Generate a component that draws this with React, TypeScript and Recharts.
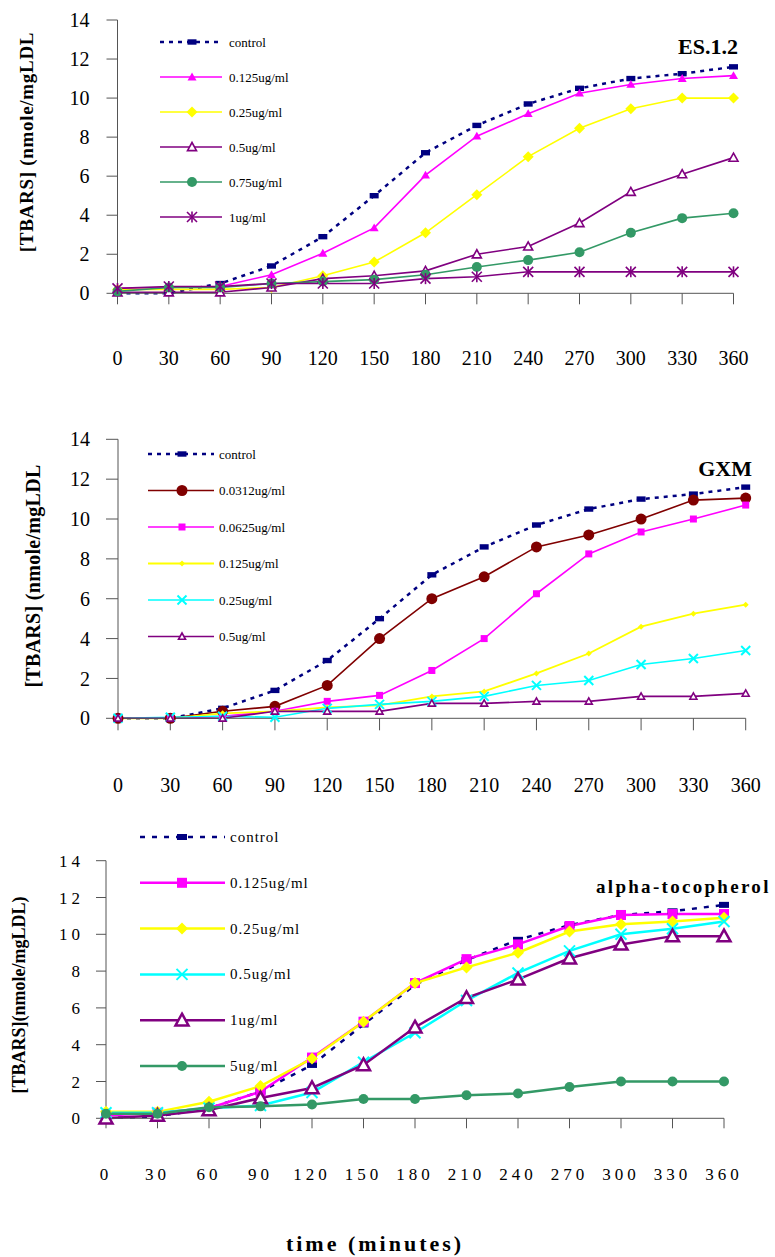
import { Legend, Line, LineChart, XAxis, YAxis } from "recharts";

const minutes = [0, 30, 60, 90, 120, 150, 180, 210, 240, 270, 300, 330, 360];
const yTicks = [0, 2, 4, 6, 8, 10, 12, 14];

const control = [0, 0, 0.5, 1.4, 2.9, 5.0, 7.2, 8.6, 9.7, 10.5, 11.0, 11.25, 11.6];

// ES.1.2
const es0125 = [0.25, 0.3, 0.35, 0.95, 2.05, 3.35, 6.05, 8.05, 9.2, 10.25, 10.7, 11.0, 11.15];
const es025 = [0.2, 0.2, 0.2, 0.3, 0.9, 1.6, 3.1, 5.05, 7.0, 8.45, 9.45, 10.0, 10.0];
const es05 = [0.05, 0.05, 0.05, 0.3, 0.75, 0.9, 1.15, 2.0, 2.4, 3.6, 5.2, 6.1, 6.95];
const es075 = [0.1, 0.3, 0.3, 0.5, 0.6, 0.7, 0.95, 1.35, 1.7, 2.1, 3.1, 3.85, 4.1];
const es1 = [0.25, 0.35, 0.35, 0.5, 0.5, 0.5, 0.75, 0.85, 1.1, 1.1, 1.1, 1.1, 1.1];

// GXM
const gx00312 = [0, 0, 0.35, 0.6, 1.65, 4.0, 6.0, 7.1, 8.6, 9.2, 10.0, 10.95, 11.05];
const gx00625 = [0, 0, 0.1, 0.35, 0.85, 1.15, 2.4, 4.0, 6.25, 8.25, 9.35, 10.0, 10.7];
const gx0125 = [0, 0, 0.25, 0.35, 0.55, 0.65, 1.1, 1.35, 2.25, 3.25, 4.6, 5.25, 5.7];
const gx025 = [0, 0.05, 0.1, 0.05, 0.5, 0.7, 0.85, 1.1, 1.65, 1.9, 2.7, 3.0, 3.4];
const gx05 = [0, 0, 0, 0.35, 0.35, 0.35, 0.75, 0.75, 0.85, 0.85, 1.1, 1.1, 1.25];

// alpha-tocopherol
const atControl = [0, 0.1, 0.55, 1.45, 2.9, 5.1, 7.25, 8.6, 9.7, 10.5, 11.05, 11.25, 11.6];
const at0125 = [0.15, 0.3, 0.55, 1.45, 3.3, 5.25, 7.35, 8.65, 9.45, 10.45, 11.05, 11.1, 11.1];
const at025 = [0.35, 0.35, 0.9, 1.75, 3.25, 5.25, 7.35, 8.2, 9.0, 10.15, 10.55, 10.7, 10.9];
const at05 = [0.3, 0.3, 0.55, 0.7, 1.4, 3.05, 4.65, 6.4, 7.9, 9.1, 10.0, 10.3, 10.7];
const at1 = [0, 0.15, 0.45, 1.1, 1.65, 2.9, 4.95, 6.55, 7.55, 8.7, 9.45, 9.9, 9.9];
const at5 = [0.25, 0.25, 0.6, 0.65, 0.75, 1.05, 1.05, 1.25, 1.35, 1.7, 2.0, 2.0, 2.0];

const NAVY = "#000080";
const MAGENTA = "#ff00ff";
const YELLOW = "#ffff00";
const PURPLE = "#800080";
const GREEN = "#339966";
const MAROON = "#800000";
const CYAN = "#00ffff";

const FONT = '"Liberation Serif", "Times New Roman", serif';

type Shape = "bar" | "square" | "triangle" | "openTriangle" | "diamond" | "circle" | "cross" | "star";

type Series = {
  key: string;
  name: string;
  values: number[];
  color: string;
  shape: Shape;
  size: number;
  width: number;
  dash?: string;
};

function Marker({ shape, x, y, color, size }: { shape: Shape; x: number; y: number; color: string; size: number }) {
  const h = size / 2;
  switch (shape) {
    case "bar":
      return <rect x={x - h} y={y - h * 0.6} width={size} height={size * 0.6} fill={color} />;
    case "square":
      return <rect x={x - h} y={y - h} width={size} height={size} fill={color} />;
    case "triangle":
      return <polygon points={`${x},${y - h} ${x + h},${y + h * 0.75} ${x - h},${y + h * 0.75}`} fill={color} />;
    case "openTriangle":
      return (
        <polygon
          points={`${x},${y - h} ${x + h},${y + h * 0.8} ${x - h},${y + h * 0.8}`}
          fill="#fff"
          stroke={color}
          strokeWidth={size > 10 ? 2.5 : 1.6}
        />
      );
    case "diamond":
      return <polygon points={`${x},${y - h} ${x + h},${y} ${x},${y + h} ${x - h},${y}`} fill={color} />;
    case "circle":
      return <circle cx={x} cy={y} r={h} fill={color} />;
    case "cross":
      return (
        <g stroke={color} strokeWidth={2}>
          <line x1={x - h} y1={y - h} x2={x + h} y2={y + h} />
          <line x1={x - h} y1={y + h} x2={x + h} y2={y - h} />
        </g>
      );
    case "star":
      return (
        <g stroke={color} strokeWidth={1.6}>
          <line x1={x - h} y1={y - h} x2={x + h} y2={y + h} />
          <line x1={x - h} y1={y + h} x2={x + h} y2={y - h} />
          <line x1={x} y1={y - h * 1.1} x2={x} y2={y + h * 1.1} />
        </g>
      );
  }
  return null;
}

type PanelProps = {
  top: number;
  height: number;
  plotLeft: number;
  plotRight: number;
  plotTop: number;
  plotBottom: number;
  series: Series[];
  title: string;
  titleX: number;
  titleY: number;
  titleAnchor: "start" | "end";
  titleSize: number;
  titleSpacing: number;
  yLabel: string;
  yLabelX: number;
  yLabelY: number;
  yLabelSize: number;
  yLabelSpacing: number;
  tickFont: number;
  tickSpacing: number;
  tickSize: number;
  xTickMargin: number;
  yTickMargin: number;
  legend: { rowTop: number; rowGap: number; x1: number; x2: number; mx: number; tx: number; font: number; spacing: number };
  extra?: React.ReactNode;
};

function Panel(p: PanelProps) {
  const data = minutes.map((t, i) => {
    const row: Record<string, number> = { time: t };
    p.series.forEach((s) => {
      row[s.key] = s.values[i];
    });
    return row;
  });
  const tickStyle = {
    fill: "#000",
    fontSize: p.tickFont,
    fontFamily: FONT,
    letterSpacing: p.tickSpacing,
    style: { fontFamily: FONT },
  };
  const lg = p.legend;

  return (
    <div style={{ position: "absolute", left: 0, top: p.top, fontFamily: FONT }}>
      <LineChart
        width={775}
        height={p.height}
        data={data}
        margin={{ top: p.plotTop, right: 775 - p.plotRight, left: 0, bottom: 0 }}
        style={{ fontFamily: FONT }}
      >
        <XAxis
          type="number"
          dataKey="time"
          domain={[0, 360]}
          ticks={minutes}
          interval={0}
          stroke="#555"
          tickSize={p.tickSize}
          tickMargin={p.xTickMargin}
          tick={tickStyle}
          height={p.height - p.plotBottom}
        />
        <YAxis
          domain={[0, 14]}
          ticks={yTicks}
          interval={0}
          stroke="#555"
          tickSize={p.tickSize}
          tickMargin={p.yTickMargin}
          tick={tickStyle}
          width={p.plotLeft}
        />
        {p.series.map((s) => (
          <Line
            key={s.key}
            type="linear"
            dataKey={s.key}
            name={s.name}
            stroke={s.color}
            strokeWidth={s.width}
            strokeDasharray={s.dash}
            isAnimationActive={false}
            activeDot={false}
            dot={(d: { cx?: number; cy?: number; index?: number }) => (
              <g key={`${s.key}-${d.index}`}>
                {d.cx !== undefined && d.cy !== undefined ? (
                  <Marker shape={s.shape} x={d.cx} y={d.cy} color={s.color} size={s.size} />
                ) : null}
              </g>
            )}
          />
        ))}
        <Legend
          layout="horizontal"
          verticalAlign="middle"
          align="center"
          wrapperStyle={{ left: 0, top: 0, width: 360, height: 270 }}
          content={() => (
            <svg width={360} height={270} style={{ display: "block" }}>
              {p.series.map((s, i) => {
                const y = lg.rowTop + i * lg.rowGap;
                return (
                  <g key={s.key}>
                    <line x1={lg.x1} y1={y} x2={lg.x2} y2={y} stroke={s.color} strokeWidth={s.width} strokeDasharray={s.dash} />
                    <Marker shape={s.shape} x={lg.mx} y={y} color={s.color} size={s.size} />
                    <text
                      x={lg.tx}
                      y={y}
                      dominantBaseline="central"
                      fontFamily={FONT}
                      fontSize={lg.font}
                      letterSpacing={lg.spacing}
                      fill="#000"
                    >
                      {s.name}
                    </text>
                  </g>
                );
              })}
            </svg>
          )}
        />
        <text
          x={p.titleX}
          y={p.titleY}
          textAnchor={p.titleAnchor}
          fontFamily={FONT}
          fontWeight="bold"
          fontSize={p.titleSize}
          letterSpacing={p.titleSpacing}
          fill="#000"
        >
          {p.title}
        </text>
        <text
          x={p.yLabelX}
          y={p.yLabelY}
          transform={`rotate(-90 ${p.yLabelX} ${p.yLabelY})`}
          textAnchor="middle"
          dominantBaseline="central"
          fontFamily={FONT}
          fontWeight="bold"
          fontSize={p.yLabelSize}
          letterSpacing={p.yLabelSpacing}
          fill="#000"
        >
          {p.yLabel}
        </text>
        {p.extra}
      </LineChart>
    </div>
  );
}

const esSeries: Series[] = [
  { key: "control", name: "control", values: control, color: NAVY, shape: "bar", size: 9, width: 2.5, dash: "4 5" },
  { key: "c0125", name: "0.125ug/ml", values: es0125, color: MAGENTA, shape: "triangle", size: 9, width: 1.6 },
  { key: "c025", name: "0.25ug/ml", values: es025, color: YELLOW, shape: "diamond", size: 11, width: 1.6 },
  { key: "c05", name: "0.5ug/ml", values: es05, color: PURPLE, shape: "openTriangle", size: 9, width: 1.6 },
  { key: "c075", name: "0.75ug/ml", values: es075, color: GREEN, shape: "circle", size: 10, width: 1.6 },
  { key: "c1", name: "1ug/ml", values: es1, color: PURPLE, shape: "star", size: 10, width: 1.6 },
];

const gxSeries: Series[] = [
  { key: "control", name: "control", values: control, color: NAVY, shape: "bar", size: 9, width: 2.5, dash: "4 5" },
  { key: "c00312", name: "0.0312ug/ml", values: gx00312, color: MAROON, shape: "circle", size: 11, width: 1.6 },
  { key: "c00625", name: "0.0625ug/ml", values: gx00625, color: MAGENTA, shape: "square", size: 7, width: 1.6 },
  { key: "c0125", name: "0.125ug/ml", values: gx0125, color: YELLOW, shape: "diamond", size: 6, width: 1.8 },
  { key: "c025", name: "0.25ug/ml", values: gx025, color: CYAN, shape: "cross", size: 9, width: 1.6 },
  { key: "c05", name: "0.5ug/ml", values: gx05, color: PURPLE, shape: "openTriangle", size: 7, width: 1.6 },
];

const atSeries: Series[] = [
  { key: "control", name: "control", values: atControl, color: NAVY, shape: "bar", size: 10, width: 2.5, dash: "5 7" },
  { key: "c0125", name: "0.125ug/ml", values: at0125, color: MAGENTA, shape: "square", size: 10, width: 2.5 },
  { key: "c025", name: "0.25ug/ml", values: at025, color: YELLOW, shape: "diamond", size: 12, width: 2.5 },
  { key: "c05", name: "0.5ug/ml", values: at05, color: CYAN, shape: "cross", size: 11, width: 2.5 },
  { key: "c1", name: "1ug/ml", values: at1, color: PURPLE, shape: "openTriangle", size: 13, width: 2.5 },
  { key: "c5", name: "5ug/ml", values: at5, color: GREEN, shape: "circle", size: 10, width: 2.5 },
];

export default function App() {
  return (
    <div
      style={{
        position: "absolute",
        left: 0,
        top: 0,
        width: 775,
        height: 1257,
        background: "#fff",
        overflow: "hidden",
        fontFamily: FONT,
      }}
    >
      <Panel
        top={0}
        height={380}
        plotLeft={117.5}
        plotRight={733.5}
        plotTop={20}
        plotBottom={293.3}
        series={esSeries}
        title="ES.1.2"
        titleX={738}
        titleY={54}
        titleAnchor="end"
        titleSize={22}
        titleSpacing={0}
        yLabel="[TBARS] (nmole/mgLDL"
        yLabelX={26}
        yLabelY={142}
        yLabelSize={19}
        yLabelSpacing={0.7}
        tickFont={20}
        tickSpacing={0}
        tickSize={11}
        xTickMargin={46}
        yTickMargin={17}
        legend={{ rowTop: 42, rowGap: 35, x1: 160, x2: 222, mx: 192, tx: 229, font: 13, spacing: 0 }}
      />
      <Panel
        top={420}
        height={380}
        plotLeft={118}
        plotRight={745.7}
        plotTop={19.3}
        plotBottom={298.3}
        series={gxSeries}
        title="GXM"
        titleX={752}
        titleY={56}
        titleAnchor="end"
        titleSize={22}
        titleSpacing={0}
        yLabel="[TBARS] (nmole/mgLDL"
        yLabelX={33}
        yLabelY={156}
        yLabelSize={20}
        yLabelSpacing={0.3}
        tickFont={20}
        tickSpacing={0}
        tickSize={12}
        xTickMargin={47}
        yTickMargin={16}
        legend={{ rowTop: 34, rowGap: 36.5, x1: 148, x2: 214, mx: 182, tx: 219, font: 13, spacing: 0 }}
      />
      <Panel
        top={820}
        height={437}
        plotLeft={106}
        plotRight={724}
        plotTop={40.7}
        plotBottom={298.3}
        series={atSeries}
        title="alpha-tocopherol"
        titleX={596}
        titleY={73}
        titleAnchor="start"
        titleSize={19}
        titleSpacing={2.3}
        yLabel="[TBARS](nmole/mgLDL)"
        yLabelX={19}
        yLabelY={175}
        yLabelSize={18}
        yLabelSpacing={0}
        tickFont={17}
        tickSpacing={4}
        tickSize={10}
        xTickMargin={40}
        yTickMargin={12}
        legend={{ rowTop: 17, rowGap: 45.8, x1: 140, x2: 225, mx: 182, tx: 230, font: 15, spacing: 1 }}
        extra={
          <text
            x={375}
            y={431}
            textAnchor="middle"
            fontFamily={FONT}
            fontWeight="bold"
            fontSize={22}
            letterSpacing={3}
            fill="#000"
          >
            time (minutes)
          </text>
        }
      />
    </div>
  );
}
